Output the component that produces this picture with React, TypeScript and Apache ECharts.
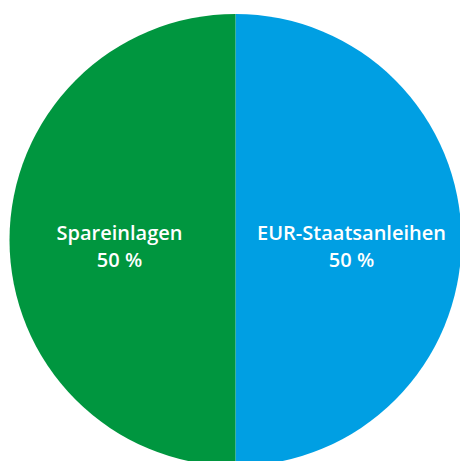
import React, { useEffect, useRef } from "react";
import * as echarts from "echarts";

const categories = ["EUR-Staatsanleihen", "Spareinlagen"];
const values = [50, 50];
const colors = ["#009FE3", "#00963F"];

export default function App() {
  const ref = useRef<HTMLDivElement>(null);
  useEffect(() => {
    const chart = echarts.init(ref.current!, null, { renderer: "svg" });
    chart.setOption({
      animation: false,
      series: [
        {
          type: "pie",
          center: [235.5, 240],
          radius: 226,
          startAngle: 90,
          clockwise: true,
          silent: true,
          itemStyle: { borderWidth: 0 },
          data: categories.map((name, i) => ({
            name,
            value: values[i],
            itemStyle: { color: colors[i], borderWidth: 0 },
          })),
          label: {
            show: true,
            position: "inside",
            formatter: "{b}\n{d} %",
            color: "#ffffff",
            fontFamily: "Open Sans",
            fontWeight: 600,
            fontSize: 20,
            lineHeight: 27,
          },
          labelLayout: { dy: 6 },
          labelLine: { show: false },
        },
      ],
    });
    return () => chart.dispose();
  }, []);
  return (
    <div
      ref={ref}
      style={{ position: "absolute", left: 0, top: 0, width: 460, height: 461 }}
    />
  );
}
